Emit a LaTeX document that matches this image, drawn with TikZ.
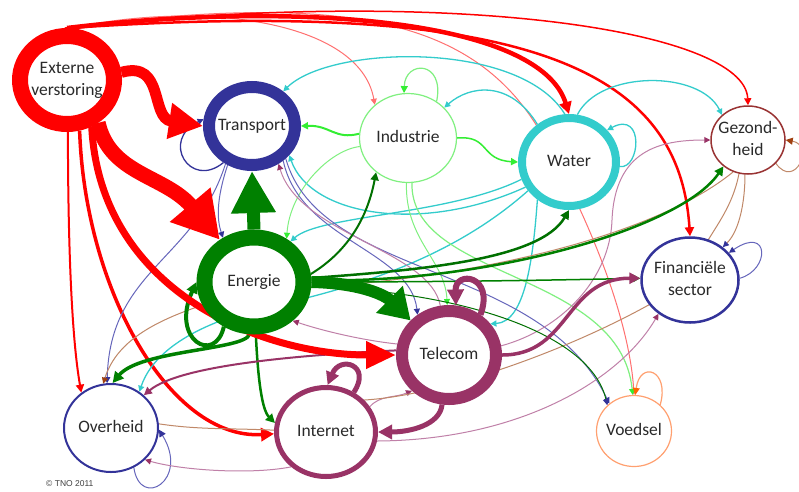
\documentclass[tikz,border=0pt]{standalone}
\usepackage{fontspec}
\newfontfamily\labelfont{Carlito}
\newfontfamily\notefont{Liberation Sans}
\usetikzlibrary{shapes.geometric,arrows.meta}
\pgfdeclarelayer{bg}
\pgfsetlayers{bg,main}
\definecolor{cRed}{HTML}{FF0000}
\definecolor{cRedL}{HTML}{FF7070}
\definecolor{cNavy}{HTML}{333399}
\definecolor{cNavyL}{HTML}{6666BB}
\definecolor{cGreen}{HTML}{008000}
\definecolor{cGreenD}{HTML}{007000}
\definecolor{cLime}{HTML}{33EE33}
\definecolor{cLimeL}{HTML}{80F080}
\definecolor{cCyan}{HTML}{33CCCC}
\definecolor{cMaroon}{HTML}{993366}
\definecolor{cPink}{HTML}{C080A8}
\definecolor{cBrown}{HTML}{C08868}
\definecolor{cBrownD}{HTML}{A04010}
\definecolor{cGez}{HTML}{993333}
\definecolor{cOrange}{HTML}{FFA070}
\definecolor{cOrangeD}{HTML}{FF6600}
\definecolor{cText}{HTML}{2A2A2A}
\newcommand\seclabel[1]{\makebox[0pt]{\begin{tabular}{@{}c@{}}#1\end{tabular}}}
\begin{document}
\begin{tikzpicture}[x=1pt,y=-1pt,
  sector/.style={ellipse, fill=white, inner sep=0pt, font={\labelfont\fontsize{17.5}{22}\selectfont}, text=cText},
  ahead/.style={-{Triangle[length=#1,width=#1]}},
  thinline/.style={line width=1pt}
]
\useasboundingbox (0,0) rectangle (799,491);
% ---- nodes (main layer, white filled, drawn above connectors)
\node[sector, draw=cRed, line width=16pt, minimum width=94pt, minimum height=88pt] (ext) at (67,80) {\seclabel{Externe\\verstoring}};
\node[sector, draw=cNavy, line width=12pt, minimum width=86pt, minimum height=78pt] (trans) at (252,126) {\seclabel{Transport}};
\node[sector, draw=cLimeL, line width=1.2pt, minimum width=97pt, minimum height=89pt] (ind) at (408,138) {\seclabel{Industrie}};
\node[sector, draw=cCyan, line width=8pt, minimum width=94pt, minimum height=88pt] (water) at (569,162) {\seclabel{Water}};
\node[sector, draw=cGez, line width=1.5pt, minimum width=74pt, minimum height=68pt] (gez) at (748,140) {\seclabel{Gezond-\\heid}};
\node[sector, draw=cNavy, line width=2.5pt, minimum width=97pt, minimum height=85pt] (fin) at (690,280) {\seclabel{Financiële\\sector}};
\node[sector, draw=cOrange, line width=1.2pt, minimum width=75pt, minimum height=71pt] (voed) at (634,431) {\seclabel{Voedsel}};
\node[sector, draw=cMaroon, line width=12pt, minimum width=94pt, minimum height=88pt] (tel) at (449,355) {\seclabel{Telecom}};
\node[sector, draw=cMaroon, line width=5pt, minimum width=99pt, minimum height=89pt] (inet) at (326,432) {\seclabel{Internet}};
\node[sector, draw=cNavy, line width=2pt, minimum width=94pt, minimum height=88pt] (over) at (111,428) {\seclabel{Overheid}};
\node[sector, draw=cGreen, line width=16pt, minimum width=99pt, minimum height=89pt] (en) at (254,282) {\seclabel{Energie}};
\node[font={\notefont\fontsize{8.5}{10}\selectfont}, text=darkgray, anchor=north west, inner sep=0pt] (copy) at (46,480) {© TNO 2011};
% ---- connectors (background layer)
\begin{pgfonlayer}{bg}
\fill[white] (0,0) rectangle (799,491);
\begin{scope}
\clip (0,0) rectangle (799,491);
% red, thin, from Externe verstoring
\draw[cRedL, thinline, ahead=6pt] (ext.85) .. controls (200,0) and (360,20) .. (ind.135);
\draw[cRedL, thinline, ahead=6pt] (ext.93) .. controls (350,-10) and (480,20) .. (545,140) .. controls (600,240) and (630,330) .. (voed.90);
\draw[cRed, line width=1.5pt, ahead=7pt] (ext.92) .. controls (450,-15) and (745,30) .. (gez.90);
\draw[cRed, line width=2.5pt, ahead=9pt] (ext.88) .. controls (550,-5) and (680,80) .. (fin.90);
\draw[cRed, line width=4.5pt, ahead=12pt] (ext.90) .. controls (300,0) and (540,20) .. (water.90);
\draw[cRed, line width=2pt, ahead=8pt] (ext.-89) .. controls (68,250) and (72,340) .. (over.130);
\draw[cRed, line width=3.5pt, ahead=13pt] (ext.-76) .. controls (85,290) and (170,440) .. (inet.182);
% cyan, from Water
\draw[cCyan, line width=1.3pt, ahead=6pt] (water.95) .. controls (520,40) and (330,45) .. (trans.48);
\draw[cCyan, line width=1.3pt, ahead=6pt] (water.130) .. controls (510,80) and (470,85) .. (ind.40);
\draw[cCyan, line width=1.3pt, ahead=6pt] (water.355) .. controls (640,170) and (645,110) .. (water.40);
\draw[cCyan, line width=1.3pt, ahead=6pt] (water.80) .. controls (600,70) and (700,70) .. (gez.136);
\draw[cCyan, line width=1.3pt, ahead=6pt] (water.200) .. controls (450,215) and (320,215) .. (en.48);
\draw[cCyan, line width=1.3pt, ahead=6pt] (water.210) .. controls (420,235) and (310,215) .. (trans.322);
\draw[cCyan, line width=1.3pt, ahead=6pt] (water.230) .. controls (533,260) and (525,322) .. (tel.37);
\draw[cCyan, line width=1.3pt, ahead=6pt] (water.215) .. controls (450,260) and (350,290) .. (254,310) .. controls (180,330) and (150,360) .. (over.52);
% light green, from Industrie
\draw[cLime, line width=2pt, ahead=7pt] (ind.175) .. controls (335,140) and (330,125) .. (trans.0);
\draw[cLime, line width=1.5pt, ahead=7pt] (ind.0) .. controls (490,135) and (480,160) .. (water.180);
\draw[cLimeL, line width=1.2pt, -{Triangle[length=7pt,width=7pt,color=cLime]}] (ind.52) .. controls (445,60) and (405,60) .. (ind.95);
\draw[cLimeL, thinline, -{Triangle[length=6pt,width=6pt,color=cLime]}] (ind.190) .. controls (330,150) and (290,190) .. (en.53);
\draw[cLimeL, thinline, -{Triangle[length=6pt,width=6pt,color=cLime]}] (ind.268) .. controls (405,240) and (445,260) .. (tel.92);
\draw[cLimeL, line width=1.2pt, -{Triangle[length=6pt,width=6pt,color=cLime]}] (ind.275) .. controls (410,280) and (620,270) .. (voed.92);
% navy, from Transport
\draw[cNavy, line width=1.3pt, ahead=6pt] (trans.232) .. controls (190,190) and (160,140) .. (trans.172);
\draw[cNavyL, thinline, -{Triangle[length=6pt,width=6pt,color=cNavy]}] (trans.238) .. controls (216,200) and (217,220) .. (en.125);
\draw[cNavyL, thinline, -{Triangle[length=6pt,width=6pt,color=cNavy]}] (trans.312) .. controls (300,240) and (410,250) .. (tel.128);
\draw[cNavyL, thinline, -{Triangle[length=6pt,width=6pt,color=cNavy]}] (trans.316) .. controls (320,280) and (540,260) .. (voed.132);
\draw[cNavyL, thinline, -{Triangle[length=6pt,width=6pt,color=cNavy]}] (trans.235) .. controls (195,260) and (110,270) .. (over.95);
% self loops of Financiele sector and Overheid
\draw[cNavyL, thinline, -{Triangle[length=6pt,width=6pt,color=cNavy]}] (fin.2) .. controls (770,270) and (770,225) .. (fin.35);
\draw[cNavyL, thinline, -{Triangle[length=7pt,width=7pt,color=cNavy]}] (over.300) .. controls (140,510) and (190,480) .. (over.358);
% thin, from Telecom and Internet
\draw[cPink, thinline, -{Triangle[length=6pt,width=6pt,color=cMaroon]}] (tel.100) .. controls (430,250) and (300,235) .. (trans.305);
\draw[cPink, thinline, -{Triangle[length=6pt,width=6pt,color=cMaroon]}] (tel.168) .. controls (360,340) and (320,330) .. (en.315);
\draw[cPink, thinline, -{Triangle[length=6pt,width=6pt,color=cMaroon]}] (tel.10) .. controls (560,330) and (610,280) .. (612,220) .. controls (615,150) and (660,140) .. (gez.180);
\draw[cPink, thinline, -{Triangle[length=6pt,width=6pt,color=cMaroon]}] (inet.225) .. controls (250,475) and (180,470) .. (over.317);
\draw[cPink, thinline, -{Triangle[length=6pt,width=6pt,color=cMaroon]}] (inet.30) .. controls (380,395) and (395,398) .. (tel.224);
\draw[cPink, thinline, -{Triangle[length=6pt,width=6pt,color=cMaroon]}] (inet.350) .. controls (520,440) and (620,380) .. (fin.227);
% brown, from Gezondheid
\draw[cBrown, thinline, -{Triangle[length=6pt,width=6pt,color=cNavy]}] (gez.265) .. controls (745,200) and (740,230) .. (fin.45);
\draw[cBrown, thinline, -{Triangle[length=6pt,width=6pt,color=cBrownD]}] (gez.245) .. controls (650,240) and (450,285) .. (254,290) .. controls (180,310) and (120,330) .. (over.100);
\draw[cBrown, thinline] (gez.255) .. controls (730,220) and (700,240) .. (690,280) .. controls (600,340) and (450,395) .. (inet.40);
\draw[cBrown, thinline, -{Triangle[length=7pt,width=7pt,color=cBrownD]}] (gez.320) .. controls (795,190) and (815,145) .. (gez.0);
\draw[cBrown, thinline] (inet.178) .. controls (230,428) and (200,430) .. (over.5);
% Voedsel self loop
\draw[cOrange, line width=1.2pt, -{Triangle[length=7pt,width=7pt,color=cOrangeD]}] (voed.45) .. controls (670,370) and (640,360) .. (voed.88);
% green, from Energie
\draw[cGreenD, line width=2pt, ahead=8pt] (en.8) .. controls (350,250) and (368,215) .. (ind.227);
\draw[cGreenD, line width=2.5pt, ahead=9pt] (en.4) .. controls (420,270) and (540,260) .. (water.270);
\draw[cGreen, line width=2.5pt, ahead=9pt] (en.2) .. controls (480,285) and (680,230) .. (gez.227);
\draw[cGreen, line width=1.5pt, ahead=7pt] (en.0) .. controls (450,282) and (560,280) .. (fin.178);
\draw[cGreenD, thinline, -{Triangle[length=6pt,width=6pt,color=cNavy]}] (en.-5) .. controls (450,290) and (590,330) .. (voed.136);
\draw[cGreen, line width=2.5pt, ahead=9pt] (en.272) .. controls (258,380) and (262,410) .. (inet.170);
\draw[cGreen, line width=3.5pt, ahead=11pt] (en.265) .. controls (245,350) and (140,350) .. (over.88);
\draw[cGreen, line width=4pt, ahead=11pt] (en.236) .. controls (215,365) and (170,340) .. (en.180);
% thick, Telecom and Internet
\draw[cMaroon, line width=3.5pt, ahead=11pt] (tel.0) .. controls (570,355) and (565,278) .. (fin.178);
\draw[cMaroon, line width=2pt, ahead=8pt] (tel.175) .. controls (300,355) and (180,365) .. (over.45);
\draw[cMaroon, line width=5pt, ahead=14pt] (tel.262) .. controls (440,425) and (410,432) .. (inet.0);
\draw[cMaroon, line width=6pt, ahead=16pt] (tel.52) .. controls (495,275) and (455,270) .. (tel.82);
\draw[cMaroon, line width=5pt, ahead=13pt] (inet.55) .. controls (372,365) and (340,355) .. (inet.88);
% thick, Energie
\draw[cGreen, line width=13pt, -{Triangle[length=42pt,width=42pt]}] (en.90) -- (trans.270);
\draw[cGreen, line width=12pt, -{Triangle[length=30pt,width=36pt]}] (en.0) .. controls (360,283) and (385,295) .. (tel.138);
% thick, Externe verstoring
\draw[cRed, line width=7pt, -{Triangle[length=30pt,width=26pt]}] (ext.-62) .. controls (100,290) and (260,355) .. (tel.180);
\draw[cRed, line width=11pt, -{Triangle[length=34pt,width=34pt]}] (ext.8) .. controls (165,60) and (150,118) .. (trans.180);
\draw[cRed, line width=15pt, -{Triangle[length=46pt,width=50pt]}] (ext.-54) .. controls (110,175) and (165,175) .. (en.129);
\end{scope}
\end{pgfonlayer}
\end{tikzpicture}
\end{document}
